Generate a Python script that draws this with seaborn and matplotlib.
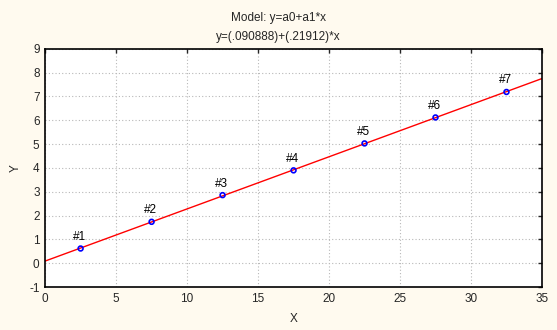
import numpy as np
import pandas as pd
import matplotlib
matplotlib.use('Agg')
import matplotlib.pyplot as plt
import seaborn as sns

# data
x_vals = [2.5, 7.5, 12.5, 17.5, 22.5, 27.5, 32.5]
y_vals = [0.62, 1.74, 2.86, 3.90, 5.03, 6.12, 7.19]
point_labels = ['#1', '#2', '#3', '#4', '#5', '#6', '#7']
x_ticks = [0, 5, 10, 15, 20, 25, 30, 35]
y_ticks = [-1, 0, 1, 2, 3, 4, 5, 6, 7, 8, 9]

df = pd.DataFrame({'X': x_vals, 'Y': y_vals, 'label': point_labels})

sns.set_style('white')
plt.rcParams['font.family'] = ['Liberation Sans', 'DejaVu Sans']
plt.rcParams['font.size'] = 8.5
plt.rcParams['axes.unicode_minus'] = False

fig = plt.figure(figsize=(5.57, 3.30), dpi=100, facecolor='#fffaef')
ax = fig.add_axes([0.081, 0.130, 0.892, 0.722])
ax.set_facecolor('white')
ax.set_xlim(0, 35)
ax.set_ylim(-1, 9)

# fitted line across the full x range
sns.regplot(data=df, x='X', y='Y', ax=ax, scatter=False, ci=None,
            truncate=False, line_kws={'color': 'red', 'lw': 1.0, 'zorder': 2})
sns.scatterplot(data=df, x='X', y='Y', ax=ax, marker='o', s=12,
                facecolor='none', edgecolor='blue', linewidth=1.2, zorder=3)

for _, r in df.iterrows():
    ax.annotate(r['label'], (r['X'], r['Y']), xytext=(-1, 4),
                textcoords='offset points', ha='center', va='bottom',
                fontsize=8.5, color='black')

ax.set_xlim(0, 35)
ax.set_ylim(-1, 9)
ax.set_xticks(x_ticks)
ax.set_yticks(y_ticks)
ax.grid(True, color='#b8b8b8', linestyle=(0, (1, 2)), linewidth=0.8)
ax.tick_params(direction='in', length=3, width=1, top=True, right=True,
               labeltop=False, labelright=False, labelsize=8.5, pad=4)
for s in ax.spines.values():
    s.set_color('black')
    s.set_linewidth(1.2)
    s.set_visible(True)

ax.set_xlabel('X', fontsize=8.5, labelpad=6)
ax.set_ylabel('Y', fontsize=8.5, labelpad=5)
fig.text(0.5, 0.945, 'Model: y=a0+a1*x', ha='center', va='center', fontsize=8.5)
fig.text(0.5, 0.888, 'y=(.090888)+(.21912)*x', ha='center', va='center', fontsize=8.5)

plt.savefig('out.png', dpi=100, facecolor=fig.get_facecolor())
